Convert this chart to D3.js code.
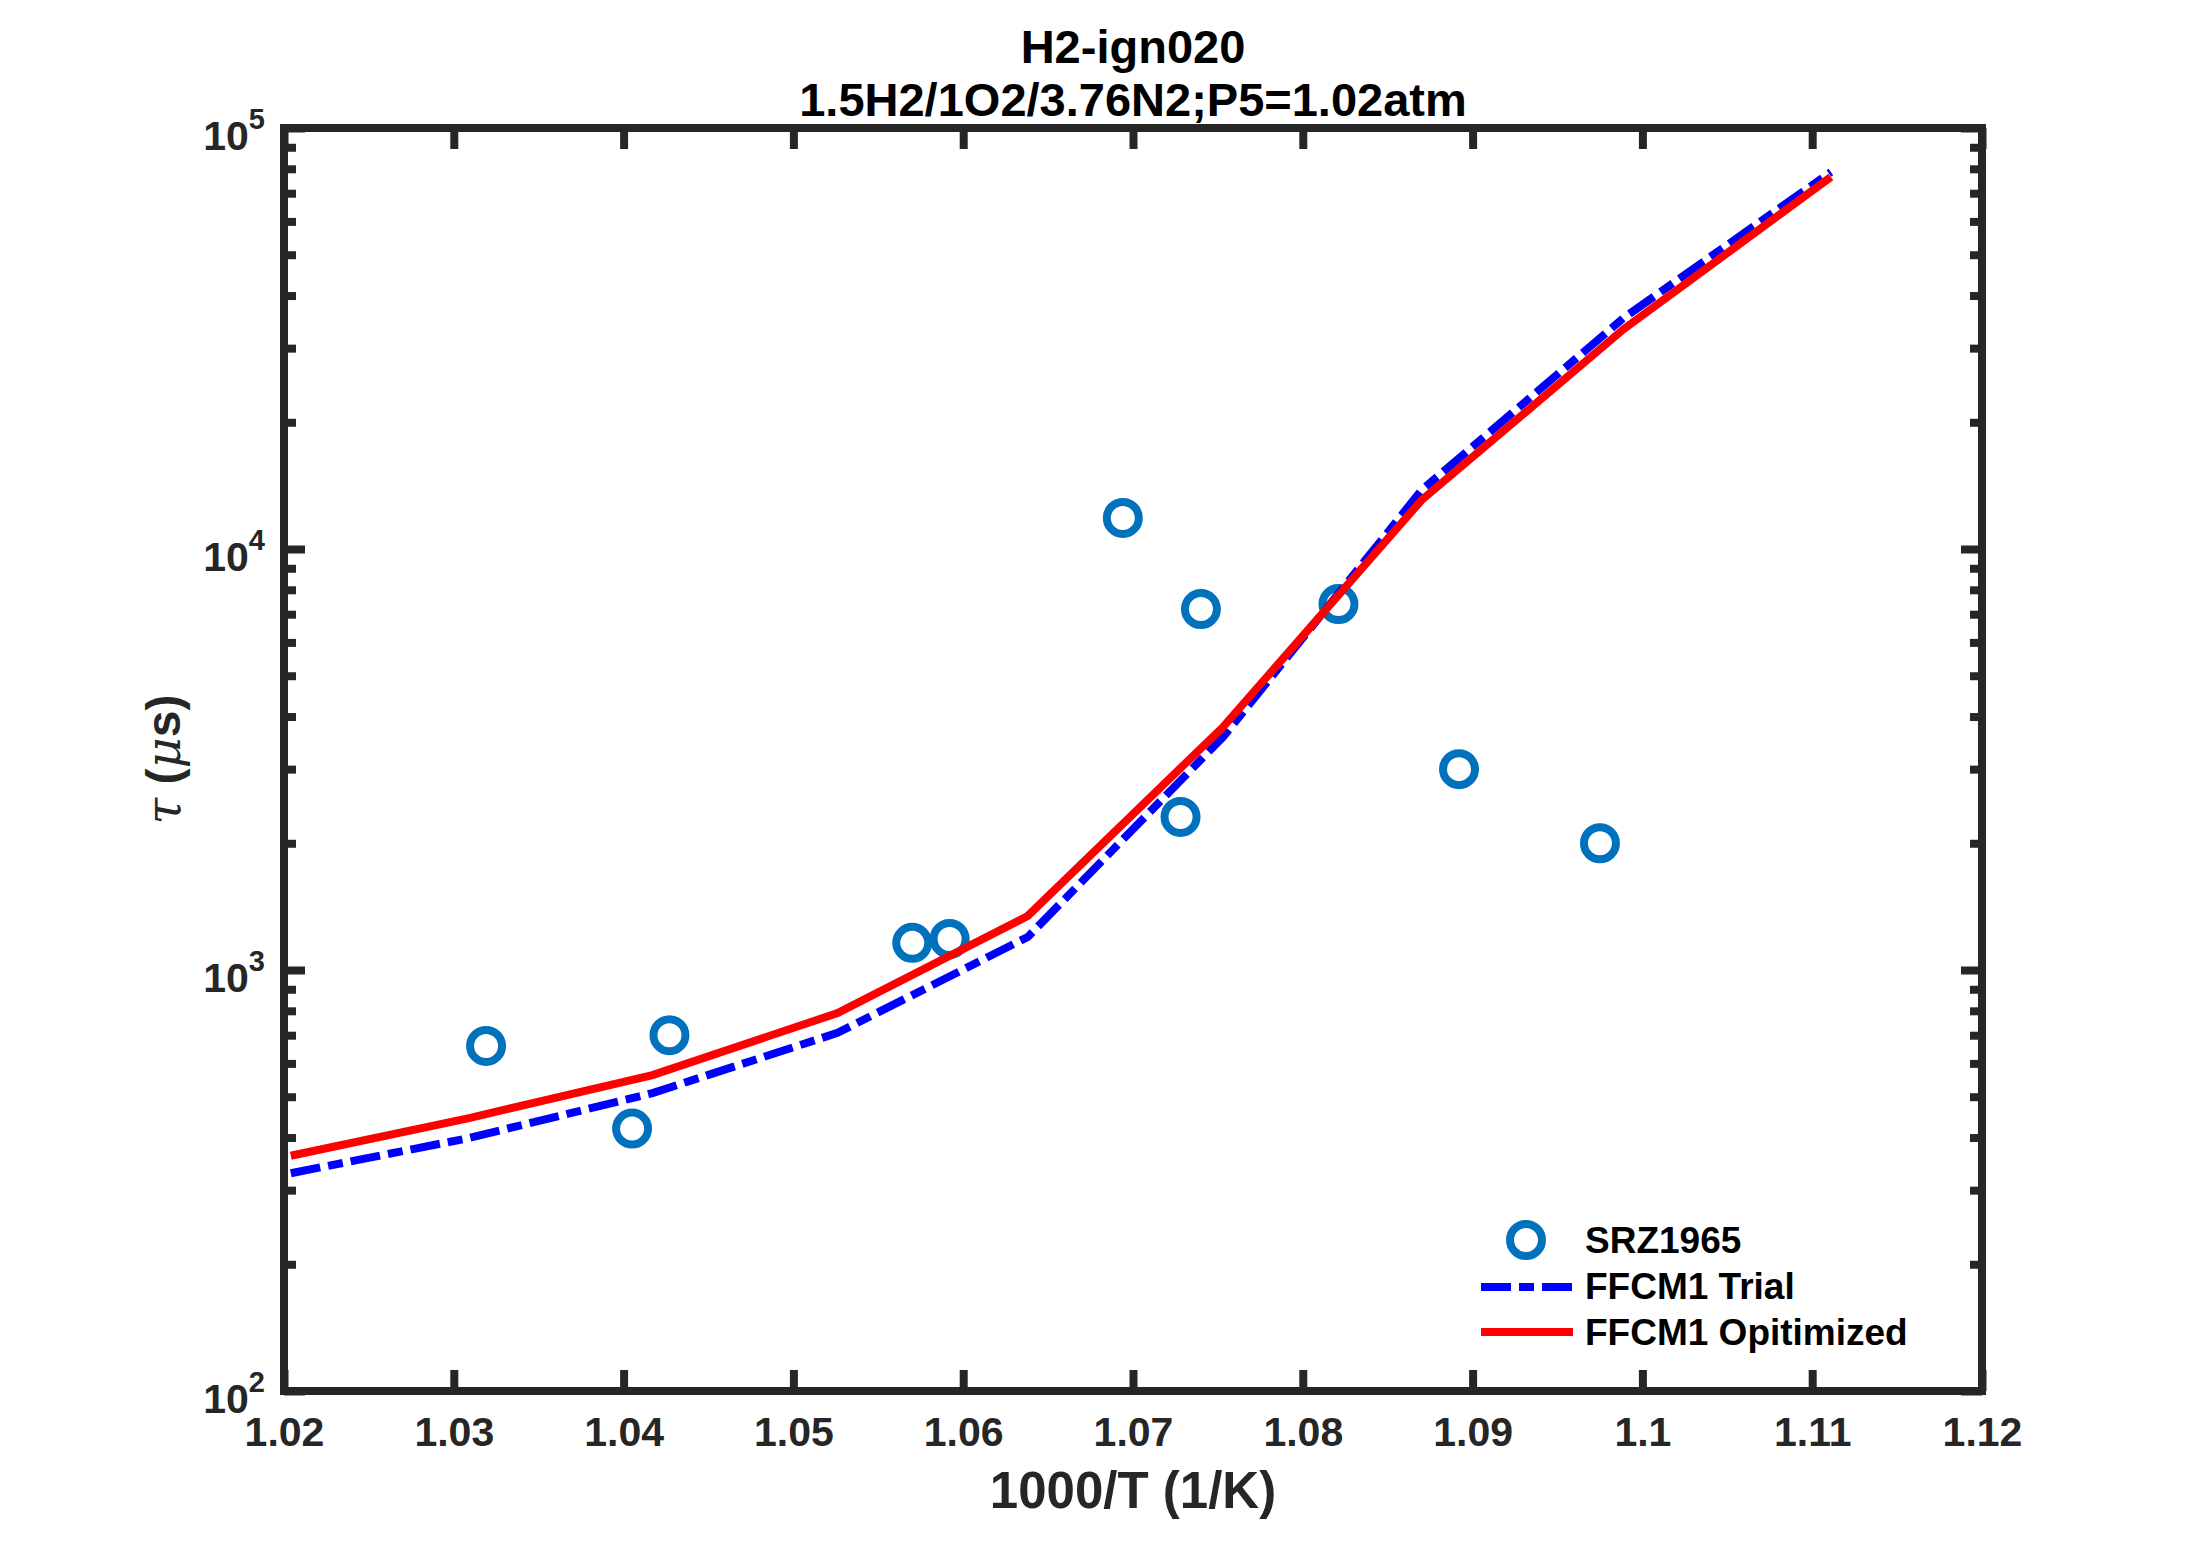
<!DOCTYPE html>
<html lang="en">
<head>
<meta charset="utf-8">
<script src="https://d3js.org/d3.v7.min.js"></script>
<style>
  body { margin: 0; background: #fff; }
  text { font-family: "Liberation Sans", Arial, Helvetica, sans-serif; font-weight: bold; }
</style>
</head>
<body>
<div id="chart"></div>
<script>
// experimental points (SRZ1965)
const expX = [1.0319, 1.0405, 1.0427, 1.0570, 1.0592, 1.0694, 1.0740, 1.0821, 1.0728, 1.0892, 1.0975];
const expTau = [660, 420, 700, 1160, 1185, 11850, 7200, 7400, 2310, 3000, 2000];

// simulated curves
const simX = [1.0204, 1.0309, 1.0417, 1.0526, 1.0638, 1.0753, 1.0870, 1.0989, 1.1111];
const trialTau = [329, 399, 510, 709, 1198, 3576, 13800, 35400, 78600];
const optTau = [362, 445, 563, 790, 1344, 3777, 13070, 33300, 76500];

const xTicks = [1.02, 1.03, 1.04, 1.05, 1.06, 1.07, 1.08, 1.09, 1.1, 1.11, 1.12];
const yTicks = [1e2, 1e3, 1e4, 1e5];
const yExp = ["2", "3", "4", "5"];
const titleLines = ["H2-ign020", "1.5H2/1O2/3.76N2;P5=1.02atm"];

const W = 2187, H = 1563;
const m = {left: 284, right: 1982, top: 128, bottom: 1391};
const axisCol = "#262626";

const svg = d3.select("#chart").append("svg")
  .attr("width", W).attr("height", H);

const x = d3.scaleLinear().domain([1.02, 1.12]).range([m.left, m.right]);
const y = d3.scaleLog().domain([1e2, 1e5]).range([m.bottom, m.top]);

// minor ticks for log axis
const minor = [];
for (let k = 2; k < 5; k++) for (let j = 2; j <= 9; j++) minor.push(j * Math.pow(10, k));

function styleAxis(g) {
  g.select(".domain").remove();
  g.selectAll("line").attr("stroke", axisCol).attr("stroke-width", 8);
  g.selectAll("text").attr("fill", axisCol).attr("font-size", 41).attr("font-family", null);
}

// bottom / top x axes
svg.append("g").attr("transform", `translate(0,${m.bottom})`)
  .call(d3.axisBottom(x).tickValues(xTicks).tickSize(-21).tickPadding(26)
    .tickFormat(d => String(+d.toFixed(2))))
  .call(styleAxis);
svg.append("g").attr("transform", `translate(0,${m.top})`)
  .call(d3.axisTop(x).tickValues(xTicks).tickSize(-21).tickFormat(""))
  .call(styleAxis);

// left / right y axes, major + minor
svg.append("g").attr("transform", `translate(${m.left},0)`)
  .call(d3.axisLeft(y).tickValues(yTicks).tickSize(-21).tickFormat(""))
  .call(styleAxis);
svg.append("g").attr("transform", `translate(${m.left},0)`)
  .call(d3.axisLeft(y).tickValues(minor).tickSize(-12).tickFormat(""))
  .call(styleAxis);
svg.append("g").attr("transform", `translate(${m.right},0)`)
  .call(d3.axisRight(y).tickValues(yTicks).tickSize(-21).tickFormat(""))
  .call(styleAxis);
svg.append("g").attr("transform", `translate(${m.right},0)`)
  .call(d3.axisRight(y).tickValues(minor).tickSize(-12).tickFormat(""))
  .call(styleAxis);

// y tick labels 10^n
const yl = svg.append("g").selectAll("text").data(yTicks).join("text")
  .attr("x", 265).attr("y", d => y(d) + 22)
  .attr("text-anchor", "end").attr("fill", axisCol).attr("font-size", 41);
yl.append("tspan").text("10");
yl.append("tspan").attr("font-size", 29).attr("dy", -21).text((d, i) => yExp[i]);

// box
svg.append("rect").attr("x", m.left).attr("y", m.top)
  .attr("width", m.right - m.left).attr("height", m.bottom - m.top)
  .attr("fill", "none").attr("stroke", axisCol).attr("stroke-width", 8);

// data circles
svg.append("g").selectAll("circle").data(expX).join("circle")
  .attr("cx", d => x(d)).attr("cy", (d, i) => y(expTau[i])).attr("r", 16)
  .attr("fill", "none").attr("stroke", "#0072BD").attr("stroke-width", 8);

const line = d3.line().x(d => x(d[0])).y(d => y(d[1]));

svg.append("path").datum(simX.map((d, i) => [d, trialTau[i]]))
  .attr("d", line).attr("fill", "none").attr("stroke", "#0000FF")
  .attr("stroke-width", 8).attr("stroke-dasharray", "30 8 15 8");

svg.append("path").datum(simX.map((d, i) => [d, optTau[i]]))
  .attr("d", line).attr("fill", "none").attr("stroke", "#FF0000")
  .attr("stroke-width", 8);

// title (two lines)
const cx = (m.left + m.right) / 2;
svg.append("g").selectAll("text").data(titleLines).join("text")
  .attr("x", cx).attr("y", (d, i) => i ? 116 : 63)
  .attr("text-anchor", "middle").attr("font-size", 47).attr("fill", "#000")
  .text(d => d);

// x label
svg.append("text").attr("x", cx).attr("y", 1508)
  .attr("text-anchor", "middle").attr("font-size", 51).attr("fill", axisCol)
  .text("1000/T (1/K)");

// y label
const ylab = svg.append("text")
  .attr("transform", `translate(180,${(m.top + m.bottom) / 2}) rotate(-90)`)
  .attr("text-anchor", "middle").attr("font-size", 48).attr("fill", axisCol);
ylab.append("tspan").attr("font-family", "DejaVu Serif").attr("font-style", "italic")
  .attr("font-weight", "normal").text("τ");
ylab.append("tspan").text(" (");
ylab.append("tspan").attr("font-family", "DejaVu Serif").attr("font-style", "italic")
  .attr("font-weight", "normal").text("μ");
ylab.append("tspan").text("s)");

// legend
const lg = svg.append("g");
lg.append("circle").attr("cx", 1526).attr("cy", 1240).attr("r", 16)
  .attr("fill", "none").attr("stroke", "#0072BD").attr("stroke-width", 8);
lg.append("line").attr("x1", 1481).attr("x2", 1573).attr("y1", 1287).attr("y2", 1287)
  .attr("stroke", "#0000FF").attr("stroke-width", 8).attr("stroke-dasharray", "30 8 15 8");
lg.append("line").attr("x1", 1481).attr("x2", 1573).attr("y1", 1332).attr("y2", 1332)
  .attr("stroke", "#FF0000").attr("stroke-width", 8);
const labels = ["SRZ1965", "FFCM1 Trial", "FFCM1 Opitimized"];
lg.selectAll("text.lab").data(labels).join("text")
  .attr("x", 1585).attr("y", (d, i) => 1253 + i * 46)
  .attr("font-size", 37).attr("fill", "#000").text(d => d);
</script>
</body>
</html>
